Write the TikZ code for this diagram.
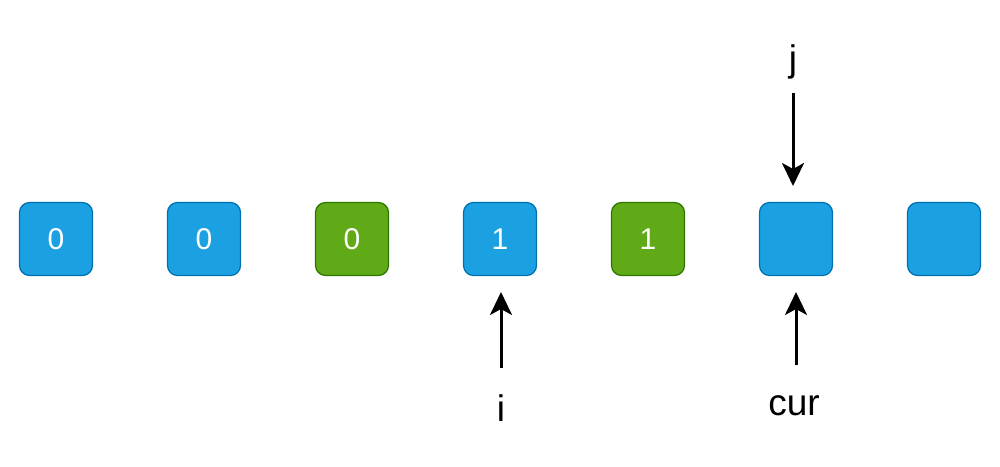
\documentclass[tikz,border=0pt]{standalone}
\usepackage{fontspec}
\setmainfont{Liberation Sans}
\usetikzlibrary{arrows.meta}
\definecolor{bfill}{HTML}{1BA1E2}
\definecolor{bline}{HTML}{006EAF}
\definecolor{gfill}{HTML}{60A917}
\definecolor{gline}{HTML}{2D7600}
\tikzset{
  cell/.style={draw=bline, fill=bfill, line width=1.2pt, rounded corners=10pt, minimum width=73pt, minimum height=73pt, inner sep=0pt, text=white, font=\fontsize{30}{34}\selectfont},
  gcell/.style={cell, draw=gline, fill=gfill},
  lbl/.style={inner sep=0pt, font=\fontsize{37}{40}\selectfont},
  ptr/.style={line width=3pt, -{Stealth[length=23pt,width=22pt,inset=6pt]}}
}
\begin{document}
\begin{tikzpicture}[x=1pt,y=-1pt]
\useasboundingbox (0,0) rectangle (1000,466);
\node[cell] (c1) at (56,239) {0};
\node[cell] (c2) at (204,239) {0};
\node[gcell] (c3) at (352,239) {0};
\node[cell] (c4) at (500,239) {1};
\node[gcell] (c5) at (648,239) {1};
\node[cell] (c6) at (796,239) {};
\node[cell] (c7) at (944,239) {};
\node[lbl] (j) at (793,62) {j};
\node[lbl] (i) at (501,408) {i};
\node[lbl] (cur) at (794,406) {cur};
\coordinate (js) at (793,93);
\coordinate (je) at (793,186);
\coordinate (is) at (501,368);
\coordinate (ie) at (501,292);
\coordinate (cs) at (796,365);
\coordinate (ce) at (796,292);
\draw[ptr] (js) -- (je);
\draw[ptr] (is) -- (ie);
\draw[ptr] (cs) -- (ce);
\end{tikzpicture}
\end{document}
